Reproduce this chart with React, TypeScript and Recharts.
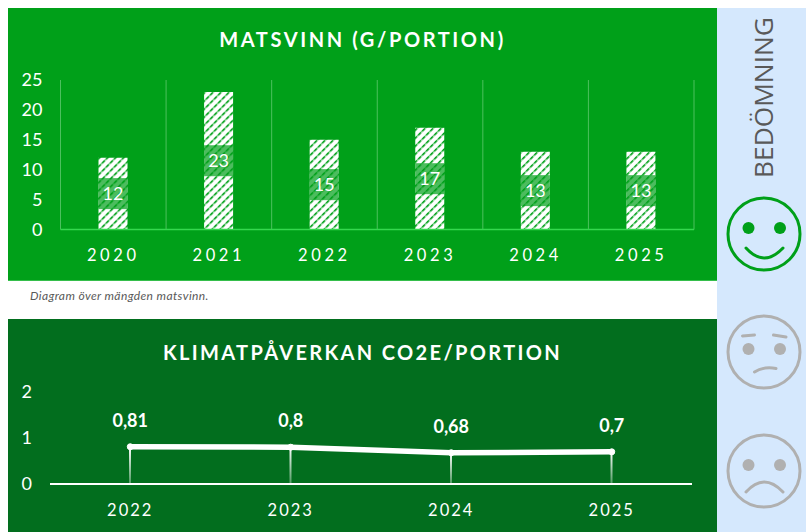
import { BarChart, Bar, ComposedChart, Line, XAxis, YAxis, CartesianGrid, LabelList } from 'recharts'

const WASTE_YEARS = ['2020', '2021', '2022', '2023', '2024', '2025']
const WASTE_VALUES = [12, 23, 15, 17, 13, 13]
const WASTE_TICKS = [0, 5, 10, 15, 20, 25]

const CLIMATE_YEARS = ['2022', '2023', '2024', '2025']
const CLIMATE_VALUES = [0.81, 0.8, 0.68, 0.7]
const CLIMATE_TICKS = [0, 1, 2]

const wasteData = WASTE_YEARS.map((year, i) => ({ year, value: WASTE_VALUES[i] }))
const climateData = CLIMATE_YEARS.map((year, i) => ({ year, value: CLIMATE_VALUES[i] }))

const FONT = 'Lato, Carlito, sans-serif'
const LIGHT_GREEN = '#00A019'
const DARK_GREEN = '#026E1E'
const SIDE_BLUE = '#D5E8FD'
const FACE_GREY = '#B0B0B0'

const WasteLabel = ({ x, y, width, height, value }: any) => {
  const cy = y + height / 2
  return (
    <g>
      <rect x={x} y={cy - 15.5} width={width} height={31} fill="#00A019" fillOpacity={0.7} />
      <text x={x + width / 2} y={cy + 6.5} textAnchor="middle" fontSize={18} fontFamily={FONT} fill="#fff">
        {value}
      </text>
    </g>
  )
}

const Title = ({ top, children, spacing }: { top: number; children: string; spacing: number }) => (
  <div style={{
    position: 'absolute', left: 8, width: 709, top, textAlign: 'center',
    fontFamily: FONT, fontWeight: 700, fontSize: 20, lineHeight: '24px',
    letterSpacing: spacing, color: '#fff',
  }}>
    {children}
  </div>
)

const Face = ({ cy, color, children }: { cy: number; color: string; children: React.ReactNode }) => (
  <g stroke={color} fill="none" strokeWidth={3} strokeLinecap="round">
    <circle cx={764} cy={cy} r={36} />
    {children}
  </g>
)

const Eyes = ({ y, color }: { y: number; color: string }) => (
  <g fill={color} stroke="none">
    <circle cx={748.5} cy={y} r={6} />
    <circle cx={780} cy={y} r={6} />
  </g>
)

const SidePanel = () => (
  <svg width={89} height={524} viewBox="717 8 89 524" style={{ position: 'absolute', left: 717, top: 8, background: SIDE_BLUE }}>
    <text
      transform="translate(773 178) rotate(-90)"
      fontFamily="'Open Sans', sans-serif"
      fontSize={25}
      fill="#595959"
      textLength={161}
      lengthAdjust="spacingAndGlyphs"
    >
      BEDÖMNING
    </text>
    <Face cy={234} color={LIGHT_GREEN}>
      <Eyes y={228} color={LIGHT_GREEN} />
      <path d="M746 248 Q764 268 783 248" />
    </Face>
    <Face cy={352} color={FACE_GREY}>
      <Eyes y={349} color={FACE_GREY} />
      <path d="M742.5 336 L754.5 335 M773.5 335 L786 337" />
      <path d="M754.5 372 Q764 366 776 368.5" />
    </Face>
    <Face cy={471} color={FACE_GREY}>
      <Eyes y={465} color={FACE_GREY} />
      <path d="M746 492 Q764 472 783 492" />
    </Face>
  </svg>
)

export default function App() {
  return (
    <div style={{ position: 'absolute', left: 0, top: 0, width: 806, height: 532, overflow: 'hidden', background: '#fff' }}>
      <div style={{ position: 'absolute', left: 8, top: 8, width: 709, height: 272, background: LIGHT_GREEN, borderBottom: '1px solid #35BE4B', boxSizing: 'content-box' }}>
        <BarChart width={709} height={272} data={wasteData} margin={{ top: 72, right: 23, bottom: 0, left: 0 }}>
          <defs>
            <pattern id="hatch" width={5.66} height={5.66} patternUnits="userSpaceOnUse" patternTransform="rotate(45)">
              <rect width={5.66} height={5.66} fill="#fff" />
              <rect width={1.5} height={5.66} fill="#6CCB7A" />
              <rect width={1.5} height={3.4} fill="#00A019" />
            </pattern>
          </defs>
          <CartesianGrid
            horizontal={false}
            stroke="#4CC05E"
            strokeWidth={1}
            verticalCoordinatesGenerator={({ offset }: any) =>
              [0, 1, 2, 3, 4, 5, 6].map(i => offset.left + (i * offset.width) / WASTE_YEARS.length)
            }
          />
          <XAxis
            dataKey="year"
            height={50.5}
            axisLine={{ stroke: '#35D84F', strokeWidth: 1.5 }}
            tickLine={false}
            tickMargin={13.5}
            tick={{ fontSize: 16.5, fontFamily: FONT, fill: '#fff', letterSpacing: 3.6 }}
          />
          <YAxis
            width={52.5}
            domain={[0, 25]}
            ticks={WASTE_TICKS}
            interval={0}
            axisLine={false}
            tickLine={false}
            tickMargin={12}
            tick={{ fontSize: 18, fontFamily: FONT, fill: '#fff' }}
          />
          <Bar dataKey="value" barSize={29} fill="url(#hatch)" isAnimationActive={false}>
            <LabelList dataKey="value" content={<WasteLabel />} />
          </Bar>
        </BarChart>
      </div>
      <Title top={27} spacing={2.6}>MATSVINN (G/PORTION)</Title>

      <div style={{ position: 'absolute', left: 30, top: 288, fontFamily: FONT, fontStyle: 'italic', fontSize: 12, letterSpacing: 0.4, color: '#595959' }}>
        Diagram över mängden matsvinn.
      </div>

      <div style={{ position: 'absolute', left: 8, top: 319, width: 709, height: 213, background: DARK_GREEN }}>
        <ComposedChart width={709} height={213} data={climateData} margin={{ top: 73, right: 25, bottom: 0, left: 0 }}>
          <defs>
            <linearGradient id="dropFade" x1="0" y1="0" x2="0" y2="1">
              <stop offset="0%" stopColor="#fff" />
              <stop offset="100%" stopColor="#fff" stopOpacity={0.3} />
            </linearGradient>
          </defs>
          <XAxis
            dataKey="year"
            height={48}
            axisLine={{ stroke: '#fff', strokeWidth: 2 }}
            tickLine={false}
            tickMargin={14}
            tick={{ fontSize: 16.5, fontFamily: FONT, fill: '#fff', letterSpacing: 2 }}
          />
          <YAxis
            width={42}
            domain={[0, 2]}
            ticks={CLIMATE_TICKS}
            interval={0}
            axisLine={false}
            tickLine={false}
            tickMargin={12}
            tick={{ fontSize: 18, fontFamily: FONT, fill: '#fff' }}
          />
          <Bar dataKey="value" barSize={2} fill="url(#dropFade)" isAnimationActive={false} />
          <Line
            dataKey="value"
            stroke="#fff"
            strokeWidth={5.5}
            dot={{ r: 3, fill: '#fff', stroke: '#fff', strokeWidth: 1 }}
            type="linear"
            isAnimationActive={false}
          >
            <LabelList
              dataKey="value"
              position="top"
              offset={20}
              formatter={(v: any) => String(v).replace('.', ',')}
              style={{ fontSize: 18, fontWeight: 700, fontFamily: FONT, fill: '#fff' }}
            />
          </Line>
        </ComposedChart>
      </div>
      <Title top={340} spacing={2.35}>KLIMATPÅVERKAN CO2E/PORTION</Title>

      <SidePanel />
    </div>
  )
}
